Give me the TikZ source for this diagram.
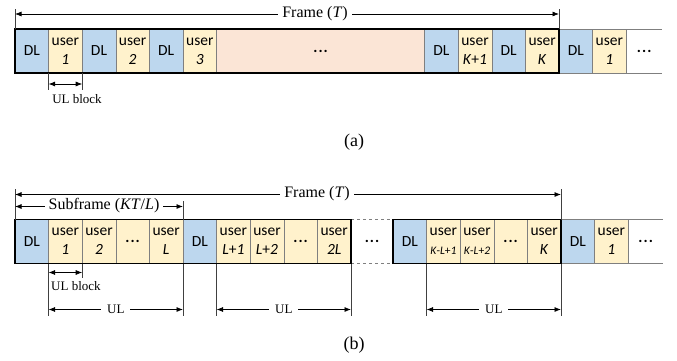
\documentclass[tikz,border=0pt]{standalone}
\usepackage{fontspec}
\setmainfont{Liberation Serif}
\newfontfamily\calfont{Carlito}
\usetikzlibrary{arrows.meta}
\definecolor{dlblue}{HTML}{BDD7EE}
\definecolor{ulyel}{HTML}{FFF2CC}
\definecolor{pinkc}{HTML}{FBE5D6}
\definecolor{cellline}{HTML}{7F7F7F}
\newcommand\celldots{{\bfseries.\kern1pt.\kern1pt.}}
\newcommand\smallidx{\fontsize{11.5}{13}\selectfont}
\begin{document}
\begin{tikzpicture}[x=1pt,y=-1pt,
 cellbase/.style={draw=cellline, line width=0.6pt, minimum height=44pt, minimum width=33.6pt,
   inner sep=0pt, outer sep=0pt, anchor=west, align=center,
   font=\calfont\fontsize{15.5}{19}\selectfont},
 dl/.style={cellbase, fill=dlblue},
 us/.style={cellbase, fill=ulyel},
 wide/.style={cellbase, fill=pinkc, minimum width=208pt},
 blank/.style={cellbase, draw=none},
 dim/.style={line width=0.7pt, {Latex[length=6.5pt,width=5pt]}-{Latex[length=6.5pt,width=5pt]}},
 tick/.style={line width=0.5pt, draw=black!75},
 boxframe/.style={draw=black, line width=1.3pt},
 lbl/.style={font=\fontsize{16}{18}\selectfont, fill=white, inner xsep=4pt, inner ysep=2pt},
 small/.style={font=\fontsize{13}{15}\selectfont, inner sep=1pt},
 captxt/.style={font=\fontsize{18}{20}\selectfont},
]
\useasboundingbox (0,0) rectangle (677,360);

% ---------------- (a) ----------------
\node[dl] (a1) at (15,51) {DL};
\node[us] (a2) at (a1.east) {user\\\textit{1}};
\node[dl] (a3) at (a2.east) {DL};
\node[us] (a4) at (a3.east) {user\\\textit{2}};
\node[dl] (a5) at (a4.east) {DL};
\node[us] (a6) at (a5.east) {user\\\textit{3}};
\node[wide] (a7) at (a6.east) {\celldots};
\node[dl] (a8) at (a7.east) {DL};
\node[us] (a9) at (a8.east) {user\\\textit{K}+\textit{1}};
\node[dl] (a10) at (a9.east) {DL};
\node[us] (a11) at (a10.east) {user\\\textit{K}};
\node[dl] (a12) at (a11.east) {DL};
\node[us] (a13) at (a12.east) {user\\\textit{1}};
\node[blank, minimum width=36pt] (a14) at (a13.east) {\celldots};
\draw[cellline, line width=0.6pt] (a13.north east) -- (a14.north east);
\draw[cellline, line width=0.6pt] (a13.south east) -- (a14.south east);
\draw[boxframe] (a1.north west) rectangle (a11.south east);

\draw[tick] (a1.north west) -- ++(0,-20);
\draw[tick] (a11.north east) -- ++(0,-20);
\coordinate (faL) at ([yshift=15pt]a1.north west);
\coordinate (faR) at ([yshift=15pt]a11.north east);
\draw[dim] (faL) -- (faR);
\node[lbl] (faT) at (315,14) {Frame (\textit{T})};

\draw[tick] (a2.south west) -- ++(0,17);
\draw[tick] (a2.south east) -- ++(0,17);
\coordinate (ubaL) at ([yshift=-11pt]a2.south west);
\coordinate (ubaR) at ([yshift=-11pt]a2.south east);
\draw[dim] (ubaL) -- (ubaR);
\node[small] (ubaT) at (77,99) {UL block};

\node[captxt] (capa) at (354,142) {(a)};

% ---------------- (b) ----------------
\node[dl] (b1) at (15,241.5) {DL};
\node[us] (b2) at (b1.east) {user\\\textit{1}};
\node[us] (b3) at (b2.east) {user\\\textit{2}};
\node[us] (b4) at (b3.east) {\celldots};
\node[us] (b5) at (b4.east) {user\\\textit{L}};
\node[dl] (b6) at (b5.east) {DL};
\node[us] (b7) at (b6.east) {user\\\textit{L}+\textit{1}};
\node[us] (b8) at (b7.east) {user\\\textit{L}+\textit{2}};
\node[us] (b9) at (b8.east) {\celldots};
\node[us] (b10) at (b9.east) {user\\\textit{2L}};
\node[blank, minimum width=42pt] (b11) at (b10.east) {\celldots};
\node[dl] (b12) at (b11.east) {DL};
\node[us] (b13) at (b12.east) {user\\{\smallidx\textit{K}-\textit{L}+\textit{1}}};
\node[us] (b14) at (b13.east) {user\\{\smallidx\textit{K}-\textit{L}+\textit{2}}};
\node[us] (b15) at (b14.east) {\celldots};
\node[us] (b16) at (b15.east) {user\\\textit{K}};
\node[dl] (b17) at (b16.east) {DL};
\node[us] (b18) at (b17.east) {user\\\textit{1}};
\node[blank, minimum width=35pt] (b19) at (b18.east) {\celldots};
\draw[cellline, line width=0.6pt] (b18.north east) -- (b19.north east);
\draw[cellline, line width=0.6pt] (b18.south east) -- (b19.south east);
\draw[cellline, line width=0.7pt, dashed] (b11.north west) -- (b11.north east);
\draw[cellline, line width=0.7pt, dashed] (b11.south west) -- (b11.south east);
\draw[boxframe] (b1.north west) rectangle (b10.south east);
\draw[boxframe] (b12.north west) rectangle (b16.south east);

% frame / subframe dimension lines
\draw[tick] (b1.north west) -- ++(0,-31);
\draw[tick] (b16.north east) -- ++(0,-31);
\draw[tick] (b5.north east) -- ++(0,-19);
\coordinate (fbL) at ([yshift=25pt]b1.north west);
\coordinate (fbR) at ([yshift=25pt]b16.north east);
\draw[dim] (fbL) -- (fbR);
\node[lbl] (fbT) at (317,194) {Frame (\textit{T})};
\coordinate (sbL) at ([yshift=13pt]b1.north west);
\coordinate (sbR) at ([yshift=13pt]b5.north east);
\draw[dim] (sbL) -- (sbR);
\node[lbl] (sbT) at (104,206) {Subframe (\textit{KT}/\textit{L})};

% UL block
\draw[tick] (b2.south east) -- ++(0,14);
\coordinate (ubbL) at ([yshift=-9pt]b2.south west);
\coordinate (ubbR) at ([yshift=-9pt]b2.south east);
\draw[dim] (ubbL) -- (ubbR);
\node[small, fill=white, anchor=west] (ubbT) at (50,286) {UL block};

% UL ranges
\foreach \s/\e/\n in {b2/b5/1, b7/b10/2, b13/b16/3}{
  \draw[tick] (\s.south west) -- ++(0,52);
  \draw[tick] (\e.south east) -- ++(0,52);
  \coordinate (ul\n L) at ([yshift=-46pt]\s.south west);
  \coordinate (ul\n R) at ([yshift=-46pt]\e.south east);
  \draw[dim] (ul\n L) -- (ul\n R) node[small, fill=white, midway, inner xsep=6pt, inner ysep=2pt] (ul\n T) {UL};
}

\node[captxt] (capb) at (354,345) {(b)};
\end{tikzpicture}
\end{document}
